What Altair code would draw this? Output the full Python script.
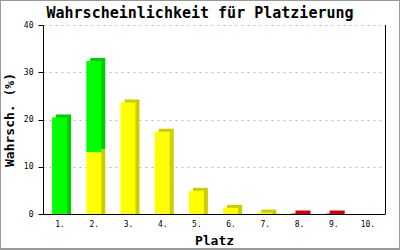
import altair as alt
import pandas as pd

# ---- data ----
places = ["1.", "2.", "3.", "4.", "5.", "6.", "7.", "8.", "9.", "10."]
yellow = [0.0, 13.1, 23.6, 17.4, 4.9, 1.3, 0.3, 0.0, 0.0, 0.0]
green = [20.4, 19.3, 0.0, 0.0, 0.0, 0.0, 0.0, 0.0, 0.0, 0.0]
red = [0.0, 0.0, 0.0, 0.0, 0.0, 0.0, 0.0, 0.1, 0.1, 0.0]
y_ticks = [0, 10, 20, 30, 40]
title_text = "Wahrscheinlichkeit für Platzierung"

kinds = ["gelb", "grün", "rot"]
front_colors = ["#ffff00", "#00ff00", "#ff0000"]
side_colors = ["#cccc00", "#00cc00", "#cc0000"]

rows = []
for i, p in enumerate(places):
    start = 0.0
    for kind, series in zip(kinds, [yellow, green, red]):
        v = series[i]
        if v > 0:
            rows.append({"platz": p, "start": start, "end": start + v,
                         "kind": kind, "bottom": start == 0})
            start += v
df = pd.DataFrame(rows)

W, H = 342, 189
MONO = "DejaVu Sans Mono"

x_enc = alt.X("platz:N", sort=places,
              scale=alt.Scale(domain=places, paddingInner=0.5, paddingOuter=0.25),
              axis=alt.Axis(title="Platz", labelAngle=0, ticks=False, domainColor="black",
                            labelFont=MONO, labelFontSize=8, labelColor="black",
                            labelPadding=6, titleFont=MONO, titleFontSize=13,
                            titleFontWeight="bold", titleColor="black", titlePadding=6,
                            grid=False))
y_scale = alt.Scale(domain=[0, 40], nice=False)
y_axis = alt.Axis(title="Wahrsch. (%)", values=y_ticks, domainColor="black",
                  tickColor="black", tickSize=5, labelFont=MONO, labelFontSize=8,
                  labelColor="black", labelPadding=5, titleFont=MONO, titleFontSize=13,
                  titleFontWeight="bold", titleColor="black", titlePadding=7,
                  grid=True, gridColor="#bbbbbb", gridDash=[2, 4], gridWidth=1)

base = alt.Chart(df)

back_lower = base.transform_filter("datum.bottom").mark_bar(
    size=15, xOffset=3.5, yOffset=-3, y2Offset=0).encode(
    x=x_enc,
    y=alt.Y("end:Q", scale=y_scale, axis=y_axis),
    y2="start:Q",
    color=alt.Color("kind:N", scale=alt.Scale(domain=kinds, range=side_colors), legend=None),
)
back_upper = base.transform_filter("!datum.bottom").mark_bar(
    size=15, xOffset=3.5, yOffset=-3, y2Offset=-3).encode(
    x=x_enc,
    y=alt.Y("end:Q", scale=y_scale, axis=y_axis),
    y2="start:Q",
    color=alt.Color("kind:N", scale=alt.Scale(domain=kinds, range=side_colors), legend=None),
)
front = base.mark_bar(size=15, xOffset=-0.5).encode(
    x=x_enc,
    y=alt.Y("end:Q", scale=y_scale, axis=y_axis),
    y2="start:Q",
    color=alt.Color("kind:N", scale=alt.Scale(domain=kinds, range=front_colors), legend=None),
)

one = pd.DataFrame({"a": [0]})
right_line = alt.Chart(one).mark_rule(color="black", strokeWidth=1).encode(
    x=alt.value(W + 0.5), y=alt.value(0), y2=alt.value(H))

title = alt.Chart(pd.DataFrame({"t": [title_text]})).mark_text(
    font=MONO, fontSize=15, fontWeight="bold", color="black",
    align="center", baseline="middle").encode(
    text="t:N", x=alt.value(157), y=alt.value(-12))

frame = alt.layer(
    alt.Chart(one).mark_rule(color="#999999", strokeWidth=1).encode(
        x=alt.value(-42.5), y=alt.value(-25), y2=alt.value(225)),
    alt.Chart(one).mark_rule(color="#999999", strokeWidth=1).encode(
        x=alt.value(356.5), y=alt.value(-25), y2=alt.value(225)),
    alt.Chart(one).mark_rule(color="#999999", strokeWidth=1).encode(
        x=alt.value(-43), x2=alt.value(357), y=alt.value(-24.5)),
    alt.Chart(one).mark_rule(color="#999999", strokeWidth=2).encode(
        x=alt.value(-43), x2=alt.value(357), y=alt.value(224)),
)

chart = alt.layer(back_upper, back_lower, front, right_line, title, frame).resolve_scale(
    color="independent"
).properties(
    width=W, height=H,
    autosize=alt.AutoSizeParams(type="none"),
    padding={"left": 43, "top": 25, "right": 15, "bottom": 36},
    background="white",
).configure_view(stroke=None)

chart.save("out.html", embed_options={"renderer": "svg", "actions": False})
